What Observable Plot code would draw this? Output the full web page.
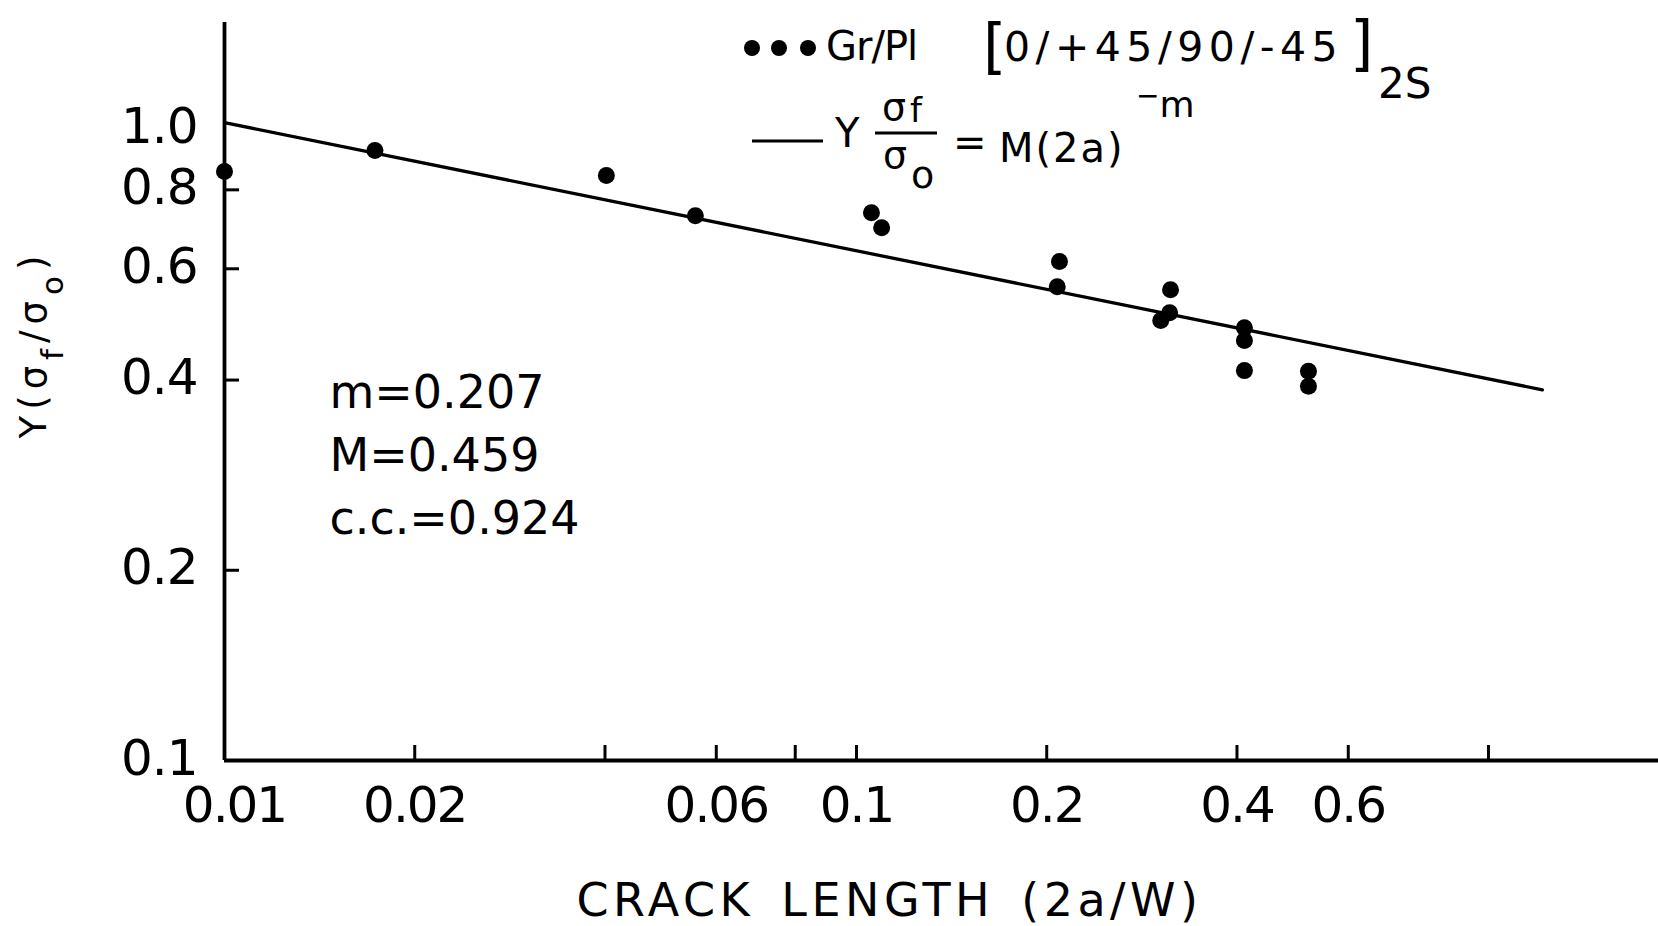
<!DOCTYPE html>
<html>
<head>
<meta charset="utf-8">
<script src="https://cdn.jsdelivr.net/npm/d3@7"></script>
<script src="https://cdn.jsdelivr.net/npm/@observablehq/plot@0.6"></script>
<style>
html, body { margin: 0; padding: 0; background: #fff; }
#chart svg { display: block; }
</style>
</head>
<body>
<div id="chart"></div>
<script>
// ---- data ----
const crackLength   = [0.0100, 0.0173, 0.0402, 0.0556, 0.1056, 0.1096, 0.2095, 0.2078, 0.314, 0.313, 0.303, 0.411, 0.411, 0.411, 0.519, 0.519];
const strengthRatio = [0.855, 0.923, 0.843, 0.728, 0.736, 0.697, 0.616, 0.562, 0.556, 0.511, 0.497, 0.484, 0.462, 0.414, 0.413, 0.391];
const fitCrackLength   = [0.01, 1.217];
const fitStrengthRatio = [1.022, 0.386];
const xTickValues = [0.02, 0.04, 0.06, 0.08, 0.1, 0.2, 0.4, 0.6, 1.0];
const xFirstLabel = [0.01];
const xTickLabels = [0.02, 0.06, 0.1, 0.2, 0.4, 0.6];
const yTickValues = [0.2, 0.4, 0.6, 0.8];
const yTickLabels = [0.1, 0.2, 0.4, 0.6, 0.8, 1.0];
const fitParams = ["m=0.207", "M=0.459", "c.c.=0.924"];
const xTitle = "CRACK LENGTH (2a/W)";
const xDomain = [0.01, 1.858];
const yDomain = [0.1, 1.472];

// ---- layout ----
const W = 1658, H = 926, mL = 224, mR = 0, mT = 22, mB = 166;
const innerW = W - mL - mR, innerH = H - mT - mB;
const FONT = "DejaVu Sans";

const points = crackLength.map((x, i) => ({x, y: strengthRatio[i]}));
const fit = fitCrackLength.map((x, i) => ({x, y: fitStrengthRatio[i]}));

const chart = Plot.plot({
  width: W, height: H,
  marginLeft: mL, marginRight: mR, marginTop: mT, marginBottom: mB,
  style: {fontFamily: FONT, background: "white", color: "black"},
  x: {type: "log", domain: xDomain, axis: null},
  y: {type: "log", domain: yDomain, axis: null},
  marks: [
    Plot.ruleX([xDomain[0]], {strokeWidth: 3.8, stroke: "black"}),
    Plot.ruleY([yDomain[0]], {strokeWidth: 3.8, stroke: "black"}),
    Plot.tickX(xTickValues, {x: d => d, strokeWidth: 3, stroke: "black", insetTop: innerH - 15}),
    Plot.tickY(yTickValues, {y: d => d, strokeWidth: 3, stroke: "black", insetRight: innerW - 15}),
    // text marks (order matters for styling below)
    Plot.text(xTickLabels, {x: d => d, frameAnchor: "bottom", text: d => String(d),
      dy: 61, lineAnchor: "bottom", fontSize: 50}),
    Plot.text(xFirstLabel, {x: d => d, frameAnchor: "bottom", text: d => String(d),
      dx: 10, dy: 61, lineAnchor: "bottom", fontSize: 50}),
    Plot.text(yTickLabels, {y: d => d, frameAnchor: "left", text: d => d.toFixed(1),
      dx: -27, dy: -2, textAnchor: "end", lineAnchor: "middle", fontSize: 50}),
    Plot.text([fitParams.join("\n")], {frameAnchor: "top-left", text: d => d, dx: 105, dy: 511,
      textAnchor: "start", lineAnchor: "bottom", lineHeight: 1.36, fontSize: 46}),
    Plot.text([xTitle], {frameAnchor: "bottom-left", text: d => d, dx: 352, dy: 155,
      textAnchor: "start", lineAnchor: "bottom", fontSize: 46}),
    Plot.line(fit, {x: "x", y: "y", strokeWidth: 3.3, stroke: "black"}),
    Plot.dot(points, {x: "x", y: "y", r: 8.5, fill: "black", stroke: null})
  ]
});

document.getElementById("chart").appendChild(chart);

const svg = d3.select(chart);
const textGroups = svg.selectAll('g[aria-label="text"]').nodes();
d3.select(textGroups[0]).attr("letter-spacing", "-2px");
d3.select(textGroups[1]).attr("letter-spacing", "-2px");
d3.select(textGroups[2]).attr("letter-spacing", "-1px");
d3.select(textGroups[4]).attr("letter-spacing", "4.5px").attr("word-spacing", "8px");

// ---- legend (top right) ----
const lg = svg.append("g").attr("font-family", FONT).attr("fill", "black").attr("text-anchor", "start");
function txt(parent, x, y, s, size, ls) {
  const t = parent.append("text").attr("x", x).attr("y", y).attr("font-size", size).text(s);
  if (ls != null) t.attr("letter-spacing", ls + "px");
  return t;
}
[752, 779, 808].forEach(cx => lg.append("circle").attr("cx", cx).attr("cy", 48).attr("r", 8));
txt(lg, 826, 60, "Gr/Pl", 40, -1);
txt(lg, 983, 67, "[", 60);
txt(lg, 1004, 61, "0/+45/90/-45", 41, 5.5);
txt(lg, 1350, 64, "]", 60);
txt(lg, 1378, 98, "2S", 42);

lg.append("line").attr("x1", 752).attr("x2", 823).attr("y1", 141).attr("y2", 141)
  .attr("stroke", "black").attr("stroke-width", 3);
txt(lg, 835, 147, "Y", 40);
txt(lg, 882, 120, "σ", 38);
txt(lg, 910, 122, "f", 34);
lg.append("line").attr("x1", 875).attr("x2", 937).attr("y1", 133).attr("y2", 133)
  .attr("stroke", "black").attr("stroke-width", 3);
txt(lg, 883, 168, "σ", 38);
txt(lg, 911, 188, "o", 38);
txt(lg, 953, 156, "=", 40);
txt(lg, 999, 162, "M(2a)", 40, 2);
const expo = lg.append("text").attr("x", 1136).attr("y", 117).attr("font-size", 36);
expo.append("tspan").attr("font-size", 28).attr("dy", -12).text("−");
expo.append("tspan").attr("dy", 12).text("m");

// ---- y-axis title (rotated) ----
const yt = svg.append("text")
  .attr("font-family", FONT).attr("font-size", 37).attr("letter-spacing", "6px")
  .attr("text-anchor", "middle")
  .attr("transform", "translate(46,344) rotate(-90)");
yt.append("tspan").text("Y(σ");
yt.append("tspan").attr("dy", 17).attr("font-size", 31).text("f");
yt.append("tspan").attr("dy", -17).text("/σ");
yt.append("tspan").attr("dy", 17).attr("font-size", 31).text("o");
yt.append("tspan").attr("dy", -17).text(")");
</script>
</body>
</html>
